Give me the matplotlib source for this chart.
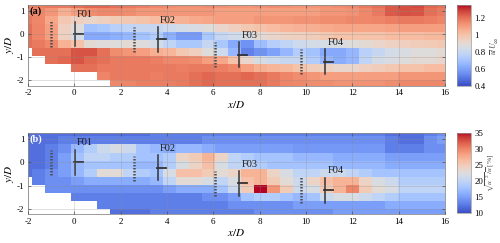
import numpy as np
import matplotlib
matplotlib.use("Agg")
import matplotlib.pyplot as plt

plt.rcParams['font.family'] = 'Liberation Serif'
plt.rcParams['mathtext.fontset'] = 'stix'
plt.rcParams['axes.unicode_minus'] = False

nan = np.nan

# measurement cells (x/D, y/D edges)
x_edges = -2.405 + 0.565 * np.arange(34)
y_edges = -2.37 + 0.35 * np.arange(12)

# (a) mean streamwise velocity u/U_inf, rows listed from top (y~1.3) to bottom (y~-2.2)
u_rows = [
    [1.15,1.17,1.18, 1.18,1.20,1.22, 1.22,1.20,1.18, 1.17,1.15,1.14, 1.13,1.13,1.14, 1.13,1.12,1.12, 1.13,1.14,1.13, 1.12,1.12,1.13, 1.14,1.15,1.18, 1.20,1.24,1.26, 1.27,1.22,1.20],
    [1.15,1.15,1.12, 1.06,1.10,1.14, 1.15,1.15,1.14, 1.12,1.12,1.12, 1.12,1.12,1.12, 1.10,1.10,1.10, 1.10,1.10,1.10, 1.10,1.10,1.12, 1.12,1.13,1.15, 1.18,1.24,1.26, 1.25,1.20,1.18],
    [1.18,1.15,1.08, 0.98,0.95,0.93, 0.95,0.97,0.98, 1.00,1.02,1.04, 1.05,1.07,1.08, 1.10,1.10,1.10, 1.12,1.12,1.12, 1.13,1.13,1.14, 1.14,1.15,1.15, 1.16,1.17,1.18, 1.18,1.17,1.16],
    [1.20,1.16,1.10, 0.95,0.88,0.70, 0.72,0.76,0.78, 0.80,0.80,0.82, 0.84,0.86,0.88, 0.92,0.95,0.98, 1.00,1.02,1.04, 1.05,1.06,1.07, 1.08,1.08,1.08, 1.08,1.09,1.10, 1.10,1.10,1.10],
    [1.20,1.16,1.10, 0.95,0.84,0.62, 0.62,0.64,0.66, 0.70,0.74,0.64, 0.58,0.58,0.72, 0.80,0.83,0.86, 0.90,0.92,0.94, 0.95,0.96,0.98, 1.00,1.00,1.00, 1.00,1.02,1.02, 1.02,1.03,1.03],
    [1.20,1.18,1.15, 1.05,1.00,0.90, 0.88,0.88,0.90, 0.88,0.84,0.78, 0.72,0.72,0.80, 0.72,0.62,0.56, 0.68,0.75,0.78, 0.82,0.84,0.85, 0.86,0.88,0.90, 0.92,0.94,0.95, 0.96,0.97,0.98],
    [nan,1.20,1.20, 1.20,1.25,1.25, 1.20,1.14,1.12, 1.10,1.06,1.04, 0.98,0.95,0.88, 0.82,0.66,0.52, 0.56,0.60,0.66, 0.74,0.70,0.62, 0.62,0.66,0.76, 0.80,0.84,0.86, 0.88,0.88,0.90],
    [nan,nan,1.20, 1.22,1.25,1.22, 1.20,1.18,1.18, 1.18,1.17,1.15, 1.15,1.14,1.10, 1.08,1.00,0.92, 0.85,0.82,0.80, 0.80,0.74,0.66, 0.63,0.66,0.78, 0.84,0.86,0.88, 0.90,0.90,0.92],
    [nan,nan,nan, nan,1.20,1.20, 1.18,1.18,1.18, 1.18,1.18,1.18, 1.17,1.18,1.18, 1.17,1.15,1.10, 1.06,1.04,1.03, 1.00,0.96,0.94, 0.92,0.92,0.95, 0.96,0.98,1.00, 1.00,1.02,1.02],
    [nan,nan,nan, nan,nan,nan, 1.16,1.18,1.18, 1.18,1.17,1.18, 1.18,1.20,1.22, 1.20,1.20,1.22, 1.20,1.18,1.16, 1.14,1.12,1.10, 1.10,1.10,1.10, 1.10,1.10,1.12, 1.12,1.12,1.12],
    [nan,nan,nan, nan,nan,nan, nan,1.15,1.16, 1.17,1.17,1.17, 1.18,1.20,1.22, 1.20,1.20,1.20, 1.20,1.18,1.16, 1.15,1.14,1.14, 1.13,1.13,1.13, 1.13,1.14,1.15, 1.15,1.15,1.15],
]

# (b) turbulence intensity [%], same cells
ti_rows = [
    [12,12,12, 12,12,12, 12,12,12, 12,13,13, 13,13,13, 13,13,13, 13,13,13, 13,13,13, 13,13,13, 13,12,12, 12,13,14],
    [12,12,12, 13,13,13, 13,13,13, 13,13,13, 13,13,14, 14,14,14, 14,14,14, 14,14,14, 14,14,14, 14,13,12, 12,14,15],
    [12,12,13, 14,17,19, 21,22,21, 18,17,16, 17,17,16, 15,15,15, 15,15,15, 14.5,14.5,14.5, 14.5,14.5,14.5, 14.5,13,13, 13,14,14],
    [12,12,13, 15,18,20, 20,19,19, 18,18,19, 24,25,27, 24,20,19, 18,18,18, 17,17,17, 16,16,16, 16,15,15, 15,15,15],
    [12,12,13, 15,17,18, 18,18,18, 17,17,19, 22,24,26, 22,20,20, 19,18,18, 18,18,18, 17,17,17, 17,16,16, 16,16,16],
    [12,13,14, 15,17,19, 23,23,20, 19,18,22, 26,26,25, 23,24,27, 27,24,22, 20,20,21, 21,20,19, 18,18,18, 18,18,18],
    [nan,13,14, 14,15,16, 16,16,16, 16,17,20, 23,23,22, 20,22,26, 27,25,23, 21,24,26, 27,27,24, 22,21,19, 19,19,19],
    [nan,nan,14, 14,14,14, 14,14,14, 14,14,15, 16,16,16, 18,21,25, 35,29,25, 21,22,25, 27,30,25, 23,22,20, 20,20,20],
    [nan,nan,nan, nan,13,13, 13,13,13, 13,13,13, 13,13,14, 14,15,18, 19,19,18, 17,18,21, 22,22,21, 20,19,18, 18,18,18],
    [nan,nan,nan, nan,nan,nan, 13,13,13, 13,13,13, 13,13,13, 13,14,14, 14,14,14, 15,15,15, 15,15,15, 15,16,16, 16,16,16],
    [nan,nan,nan, nan,nan,nan, nan,12,12, 12,13,13, 13,13,13, 13,13,13, 14,14,14, 14,14,14, 15,15,15, 15,15,15, 15,15,15],
]

# turbines and measurement rakes
turb_names = ['F01', 'F02', 'F03', 'F04']
turb_x = [0.03, 3.61, 7.12, 10.82]
turb_y = [0.0, -0.23, -0.9, -1.2]
name_x = [0.45, 4.04, 7.57, 11.27]
name_y = [0.87, 0.61, -0.07, -0.36]
rotor_r = 0.54
rake_x = [-1.02, 2.58, 6.06, 9.8]
rake_y = [0.0, -0.25, -0.9, -1.2]
rake_r = 0.55

fig = plt.figure(figsize=(5, 2.43), dpi=100)
ax_a = fig.add_axes([0.056, 0.647, 0.834, 0.332])
ax_b = fig.add_axes([0.056, 0.118, 0.834, 0.333])
cax_a = fig.add_axes([0.914, 0.646, 0.028, 0.333])
cax_b = fig.add_axes([0.914, 0.122, 0.028, 0.332])

panels = [
    (ax_a, cax_a, u_rows, 0.4, 1.35, [0.4, 0.6, 0.8, 1, 1.2], ['0.4', '0.6', '0.8', '1', '1.2'],
     r'$\overline{u}/U_\infty$', 2.68, 5.8, '(a)', 'black'),
    (ax_b, cax_b, ti_rows, 10, 35, [10, 15, 20, 25, 30, 35], ['10', '15', '20', '25', '30', '35'],
     r"$\sqrt{\overline{u'^2}}/\overline{u}$ [%]", 2.42, 5.4, '(b)', 'white'),
]

for ax, cax, rows, vmin, vmax, cticks, clabels, clabel, lab_x, lab_fs, tag, tagcol in panels:
    data = np.array(rows[::-1], dtype=float)
    mesh = ax.pcolormesh(x_edges, y_edges, np.ma.masked_invalid(data), cmap='coolwarm',
                         vmin=vmin, vmax=vmax, shading='flat')
    ax.set_xlim(-2, 16)
    ax.set_ylim(-2.25, 1.26)
    ax.set_xticks(range(-2, 17, 2))
    ax.set_yticks([-2, -1, 0, 1])
    ax.grid(True, color='0.55', lw=0.4, alpha=0.5)
    ax.set_axisbelow(False)
    ax.tick_params(direction='in', top=True, right=True, length=2.5, width=0.5,
                   labelsize=6.5, color='0.3', pad=2.5)
    for s in ax.spines.values():
        s.set_color('0.55')
        s.set_linewidth(0.6)
    ax.set_xlabel(r'$x/D$', fontsize=8, labelpad=1)
    ax.set_ylabel(r'$y/D$', fontsize=8, labelpad=1)

    for i in range(len(rake_x)):
        ax.plot([rake_x[i], rake_x[i]], [rake_y[i] - rake_r, rake_y[i] + rake_r],
                color='0.3', lw=1.8, dashes=(0.6, 0.6), solid_capstyle='butt')
    for i in range(len(turb_x)):
        ax.plot([turb_x[i], turb_x[i]], [turb_y[i] - rotor_r, turb_y[i] + rotor_r],
                color='0.2', lw=1.1)
        ax.plot([turb_x[i] - 0.05, turb_x[i] + 0.35], [turb_y[i], turb_y[i]],
                color='0.2', lw=1.3)
        ax.text(name_x[i], name_y[i], turb_names[i], fontsize=7.5, color='0.1',
                ha='center', va='center')

    ax.text(-1.93, 1.0, tag, fontsize=7.5, fontweight='bold', color=tagcol,
            ha='left', va='center')

    cb = fig.colorbar(mesh, cax=cax)
    cb.set_ticks(cticks)
    cb.set_ticklabels(clabels)
    cb.ax.tick_params(labelsize=6.3, length=0, pad=2.5)
    cb.outline.set_edgecolor('0.6')
    cb.outline.set_linewidth(0.5)
    cax.text(lab_x, 0.5, clabel, transform=cax.transAxes, rotation=90,
             ha='center', va='center', fontsize=lab_fs, color='0.3')

fig.savefig('out.png', dpi=100)
